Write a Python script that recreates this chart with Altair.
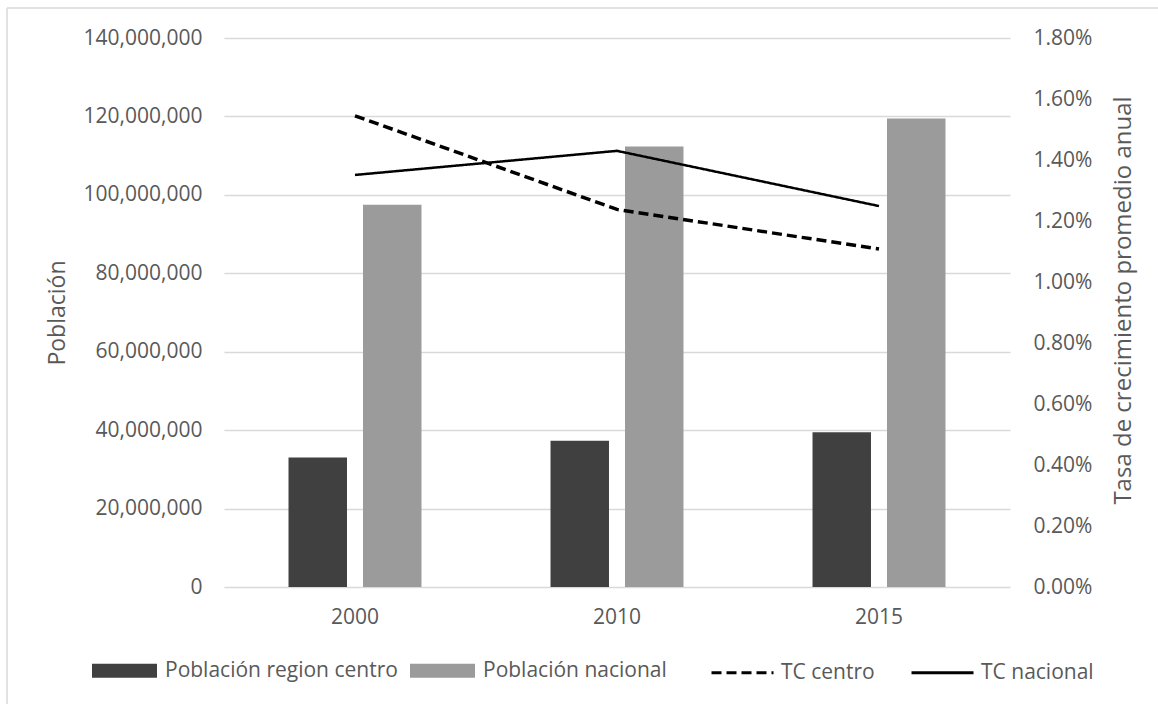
import altair as alt
import pandas as pd

# ---- data ----
years = ["2000", "2010", "2015"]
bar_series = ["Población region centro", "Población nacional"]
pob_centro = [33_000_000, 37_300_000, 39_450_000]
pob_nacional = [97_500_000, 112_300_000, 119_500_000]

line_series = ["TC centro", "TC nacional"]
tc_centro = [0.01545, 0.01238, 0.01108]
tc_nacional = [0.01351, 0.01430, 0.01249]

left_ticks = [0, 20_000_000, 40_000_000, 60_000_000, 80_000_000,
              100_000_000, 120_000_000, 140_000_000]
right_ticks = [0.0, 0.002, 0.004, 0.006, 0.008, 0.010, 0.012, 0.014, 0.016, 0.018]

bars_df = pd.DataFrame({
    "year": years * 2,
    "serie": [bar_series[0]] * 3 + [bar_series[1]] * 3,
    "valor": pob_centro + pob_nacional,
})
lines_df = pd.DataFrame({
    "year": years * 2,
    "serie": [line_series[0]] * 3 + [line_series[1]] * 3,
    "tasa": tc_centro + tc_nacional,
})

FONT = "Open Sans"
TXT = "#595959"
GRID = "#d9d9d9"
W, H = 786, 549
PL, PT = 224, 38
LBL = 21
TTL = 23

x_enc = alt.X(
    "year:N", sort=years, title=None,
    scale=alt.Scale(paddingInner=0, paddingOuter=0),
    axis=alt.Axis(labelAngle=0, ticks=False, domain=False, grid=False,
                  labelPadding=19, labelFontSize=LBL, labelColor=TXT, labelFont=FONT),
)

bars = alt.Chart(bars_df).mark_bar().encode(
    x=x_enc,
    xOffset=alt.XOffset("serie:N", sort=bar_series,
                        scale=alt.Scale(paddingInner=0.215, paddingOuter=0.866)),
    y=alt.Y("valor:Q",
            scale=alt.Scale(domain=[0, 140_000_000], nice=False),
            axis=alt.Axis(title="Población", format=",.0f", values=left_ticks,
                          orient="left", ticks=False, domain=False,
                          grid=True, gridColor=GRID, gridWidth=1.3,
                          labelPadding=22, labelFontSize=LBL, labelColor=TXT, labelFont=FONT,
                          titleFontSize=TTL, titleFontWeight="normal", titleColor=TXT,
                          titleFont=FONT, titleX=57 - PL, titleY=H / 2,
                          titleBaseline="middle", titleAngle=270)),
    fill=alt.Fill("serie:N", sort=bar_series,
                  scale=alt.Scale(domain=bar_series, range=["#404040", "#9b9b9b"]),
                  legend=alt.Legend(title=None, orient="none", direction="horizontal",
                                    legendX=92 - PL, legendY=638 - PT,
                                    symbolType="M-1,-0.215H1V0.215H-1Z",
                                    symbolSize=65 * 65, symbolStrokeWidth=0,
                                    labelFontSize=LBL, labelColor=TXT, labelFont=FONT,
                                    labelLimit=0, labelOffset=8, columnPadding=12)),
)

lines = alt.Chart(lines_df).mark_line(color="black").encode(
    x=x_enc,
    y=alt.Y("tasa:Q",
            scale=alt.Scale(domain=[0, 0.018], nice=False),
            axis=alt.Axis(title="Tasa de crecimiento promedio anual", format=".2%",
                          values=right_ticks, orient="right", ticks=False,
                          domain=False, grid=False,
                          labelPadding=23, labelFontSize=LBL, labelColor=TXT, labelFont=FONT,
                          titleFontSize=24, titleFontWeight="normal", titleColor=TXT,
                          titleFont=FONT, titleX=1123 - (PL + W), titleY=300 - PT,
                          titleBaseline="middle", titleAngle=270)),
    strokeDash=alt.StrokeDash("serie:N", sort=line_series,
                              scale=alt.Scale(domain=line_series, range=[[10, 5], [1, 0]]),
                              legend=alt.Legend(title=None, orient="none", direction="horizontal",
                                                legendX=710 - PL, legendY=640 - PT,
                                                symbolType="stroke", symbolSize=62 * 62,
                                                symbolStrokeWidth=3, symbolStrokeColor="black",
                                                labelFontSize=LBL, labelColor=TXT, labelFont=FONT,
                                                labelLimit=0, labelOffset=6, columnPadding=30)),
    strokeWidth=alt.StrokeWidth("serie:N",
                                scale=alt.Scale(domain=line_series, range=[3.5, 2.5]),
                                legend=None),
)

frame_top = alt.Chart().mark_rule(color=GRID, strokeWidth=1.5).encode(
    x=alt.value(7 - PL), x2=alt.value(1160 - PL), y=alt.value(8 - PT))
frame_left = alt.Chart().mark_rule(color=GRID, strokeWidth=1.5).encode(
    x=alt.value(7 - PL), y=alt.value(8 - PT), y2=alt.value(706 - PT))

chart = alt.layer(bars, lines, frame_top, frame_left).resolve_scale(
    y="independent", strokeDash="independent"
).properties(
    width=W, height=H,
    autosize=alt.AutoSizeParams(type="none"),
    padding={"left": PL, "top": PT, "right": 1158 - PL - W, "bottom": 704 - PT - H},
    background="white",
).configure_view(stroke=None)

chart.save("out.html", embed_options={"renderer": "svg", "actions": False})
